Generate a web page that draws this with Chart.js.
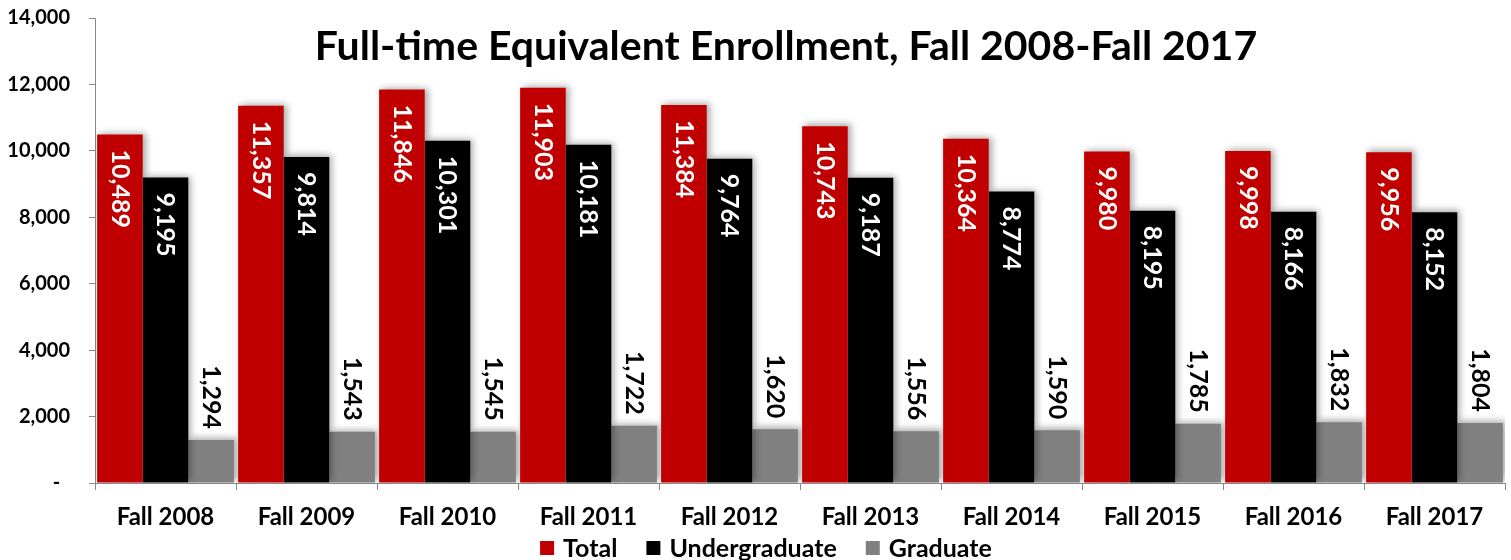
<!DOCTYPE html>
<html>
<head>
<meta charset="utf-8">
<script src="https://cdn.jsdelivr.net/npm/chart.js@4/dist/chart.umd.min.js"></script>
<style>
html,body{margin:0;padding:0;background:#fff;}
#wrap{width:1511px;height:560px;position:relative;}
</style>
</head>
<body>
<div id="wrap"><canvas id="c" width="1511" height="560"></canvas></div>
<script>
const categories = ['Fall 2008','Fall 2009','Fall 2010','Fall 2011','Fall 2012','Fall 2013','Fall 2014','Fall 2015','Fall 2016','Fall 2017'];
const totalValues = [10489, 11357, 11846, 11903, 11384, 10743, 10364, 9980, 9998, 9956];
const undergradValues = [9195, 9814, 10301, 10181, 9764, 9187, 8774, 8195, 8166, 8152];
const gradValues = [1294, 1543, 1545, 1722, 1620, 1556, 1590, 1785, 1832, 1804];
const yTicks = [0, 2000, 4000, 6000, 8000, 10000, 12000, 14000];
const titleText = 'Full-time Equivalent Enrollment, Fall 2008-Fall 2017';

const FONT = 'Lato, "Open Sans", sans-serif';
const fmt = v => v.toLocaleString('en-US');

const shadowPlugin = {
  id: 'shadow',
  beforeDatasetsDraw(chart) {
    const ctx = chart.ctx;
    ctx.save();
    ctx.shadowColor = 'rgba(0,0,0,0.35)';
    ctx.shadowBlur = 7;
    ctx.shadowOffsetX = 3;
    ctx.shadowOffsetY = -2;
  },
  afterDatasetsDraw(chart) {
    chart.ctx.restore();
  }
};

const labelPlugin = {
  id: 'barLabels',
  afterDatasetsDraw(chart) {
    const ctx = chart.ctx;
    ctx.save();
    ctx.font = 'bold 25px ' + FONT;
    chart.data.datasets.forEach((ds, di) => {
      const meta = chart.getDatasetMeta(di);
      meta.data.forEach((bar, i) => {
        const txt = fmt(ds.data[i]);
        ctx.save();
        ctx.translate(bar.x, bar.y);
        ctx.rotate(Math.PI / 2);
        ctx.textBaseline = 'middle';
        if (di === 2) {
          ctx.fillStyle = '#000';
          ctx.textAlign = 'right';
          ctx.fillText(txt, -11, 0);
        } else {
          ctx.fillStyle = '#fff';
          ctx.textAlign = 'left';
          ctx.fillText(txt, 15, 0);
        }
        ctx.restore();
      });
    });
    ctx.restore();
  }
};

const titlePlugin = {
  id: 'overlayTitle',
  afterDraw(chart) {
    const ctx = chart.ctx;
    ctx.save();
    ctx.font = 'bold 41px ' + FONT;
    ctx.fillStyle = '#000';
    ctx.textAlign = 'center';
    ctx.textBaseline = 'middle';
    ctx.fillText(titleText, 786, 47);
    ctx.restore();
  }
};

const legendPlugin = {
  id: 'bottomLegend',
  afterDraw(chart) {
    const ctx = chart.ctx;
    ctx.save();
    ctx.font = 'bold 25px ' + FONT;
    ctx.textBaseline = 'middle';
    ctx.textAlign = 'left';
    const box = 14, gapText = 9, gapItem = 29, cy = 548;
    const items = chart.data.datasets.map(ds => ({ label: ds.label, color: ds.backgroundColor, w: ctx.measureText(ds.label).width }));
    const total = items.reduce((s, it) => s + box + gapText + it.w, 0) + gapItem * (items.length - 1);
    let x = 766 - total / 2;
    items.forEach(it => {
      ctx.fillStyle = it.color;
      ctx.fillRect(x, cy - box / 2, box, box);
      x += box + gapText;
      ctx.fillStyle = '#000';
      ctx.fillText(it.label, x, cy + 1);
      x += it.w + gapItem;
    });
    ctx.restore();
  }
};

new Chart(document.getElementById('c'), {
  type: 'bar',
  data: {
    labels: categories,
    datasets: [
      { label: 'Total', data: totalValues, backgroundColor: '#C00000' },
      { label: 'Undergraduate', data: undergradValues, backgroundColor: '#000000' },
      { label: 'Graduate', data: gradValues, backgroundColor: '#808080' }
    ]
  },
  options: {
    responsive: false,
    animation: false,
    devicePixelRatio: 1,
    layout: { padding: { top: 18, right: 6, left: 0, bottom: 31 } },
    datasets: { bar: { categoryPercentage: 0.97, barPercentage: 1.0, borderWidth: 0 } },
    scales: {
      x: {
        offset: true,
        afterFit(scale) { scale.height = 46; },
        grid: { display: true, drawOnChartArea: false, drawTicks: true, tickLength: 7, offset: true, color: '#888' },
        border: { display: true, color: '#888', width: 1 },
        ticks: { color: '#000', font: { family: FONT, size: 24, weight: 'bold' }, padding: 13 }
      },
      y: {
        min: 0, max: 14000,
        afterBuildTicks(scale) { scale.ticks = yTicks.map(v => ({ value: v })); },
        afterFit(scale) { scale.width = 95; scale.paddingTop = 0; scale.paddingBottom = 0; },
        grid: { display: true, drawOnChartArea: false, drawTicks: true, tickLength: 6, color: '#888' },
        border: { display: true, color: '#888', width: 1 },
        ticks: {
          color: '#000',
          font: { family: FONT, size: 20, weight: 'bold' },
          padding: 19,
          callback: v => v === 0 ? '-  ' : fmt(v)
        }
      }
    },
    plugins: {
      legend: { display: false },
      title: { display: false },
      tooltip: { enabled: false }
    }
  },
  plugins: [shadowPlugin, labelPlugin, titlePlugin, legendPlugin]
});
</script>
</body>
</html>
